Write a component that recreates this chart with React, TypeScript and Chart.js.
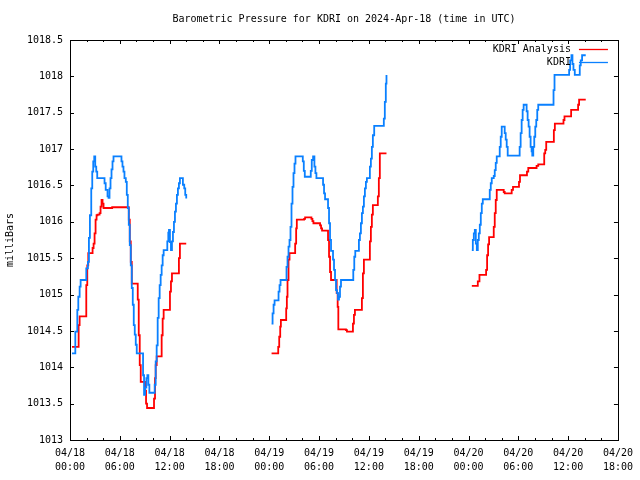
import React, { useEffect, useRef } from "react";
import { Chart, registerables } from "chart.js";

Chart.register(...registerables);

const chartTitle = "Barometric Pressure for KDRI on 2024-Apr-18 (time in UTC)";
const yAxisTitle = "milliBars";
const analysisLabel = "KDRI Analysis";
const stationLabel = "KDRI";

const xTickDates = ["04/18", "04/18", "04/18", "04/18", "04/19", "04/19", "04/19", "04/19", "04/20", "04/20", "04/20", "04/20"];
const xTickTimes = ["00:00", "06:00", "12:00", "18:00", "00:00", "06:00", "12:00", "18:00", "00:00", "06:00", "12:00", "18:00"];

// hours since 04/18 00:00 UTC
const kdriHours1 = [0.24, 0.64, 0.88, 1.0, 1.16, 1.28, 1.96, 2.16, 2.28, 2.4, 2.56, 2.68, 2.8, 2.92, 3.04, 3.16, 3.28, 4.16, 4.3, 4.52, 4.64, 4.76, 4.88, 5.0, 5.12, 5.24, 6.2, 6.32, 6.44, 6.56, 6.72, 6.84, 6.96, 7.08, 7.2, 7.32, 7.44, 7.56, 7.68, 7.8, 7.92, 8.04, 8.8, 8.92, 9.04, 9.2, 9.32, 9.44, 9.56, 10.2, 10.32, 10.44, 10.56, 10.68, 10.8, 10.92, 11.04, 11.16, 11.28, 11.72, 11.84, 11.92, 12.04, 12.16, 12.28, 12.4, 12.52, 12.64, 12.76, 12.88, 13.0, 13.12, 13.24, 13.6, 13.76, 13.88, 14.0];
const kdriValues1 = [1014.19, 1014.49, 1014.79, 1014.97, 1015.11, 1015.2, 1015.36, 1015.45, 1015.78, 1016.09, 1016.46, 1016.69, 1016.83, 1016.9, 1016.76, 1016.69, 1016.6, 1016.53, 1016.44, 1016.35, 1016.33, 1016.46, 1016.6, 1016.72, 1016.83, 1016.9, 1016.83, 1016.76, 1016.69, 1016.6, 1016.55, 1016.37, 1016.19, 1015.96, 1015.68, 1015.4, 1015.09, 1014.86, 1014.58, 1014.45, 1014.31, 1014.19, 1013.89, 1013.62, 1013.72, 1013.85, 1013.89, 1013.76, 1013.65, 1013.76, 1014.08, 1014.3, 1014.68, 1014.95, 1015.13, 1015.27, 1015.4, 1015.54, 1015.61, 1015.73, 1015.85, 1015.89, 1015.72, 1015.61, 1015.73, 1015.86, 1016.0, 1016.14, 1016.25, 1016.37, 1016.46, 1016.53, 1016.6, 1016.51, 1016.46, 1016.37, 1016.32];

const kdriHours2 = [24.28, 24.4, 24.52, 24.64, 25.12, 25.24, 25.36, 26.08, 26.2, 26.32, 26.44, 26.56, 26.68, 26.8, 26.92, 27.04, 27.16, 28.04, 28.16, 28.28, 29.0, 29.12, 29.28, 29.44, 29.56, 29.68, 30.48, 30.6, 30.72, 31.08, 31.2, 31.32, 31.44, 31.68, 31.8, 31.92, 32.04, 32.16, 32.28, 32.4, 32.52, 32.64, 34.12, 34.24, 34.36, 34.8, 34.92, 35.04, 35.16, 35.28, 35.4, 35.52, 35.64, 35.76, 36.12, 36.24, 36.36, 36.48, 36.64, 37.8, 37.92, 38.04, 38.12];
const kdriValues2 = [1014.6, 1014.74, 1014.86, 1014.92, 1015.04, 1015.13, 1015.2, 1015.38, 1015.52, 1015.66, 1015.75, 1015.93, 1016.25, 1016.48, 1016.67, 1016.8, 1016.9, 1016.83, 1016.7, 1016.62, 1016.7, 1016.85, 1016.9, 1016.76, 1016.67, 1016.6, 1016.51, 1016.39, 1016.31, 1016.19, 1015.98, 1015.75, 1015.6, 1015.48, 1015.34, 1015.2, 1015.06, 1015.02, 1014.93, 1014.97, 1015.11, 1015.2, 1015.34, 1015.52, 1015.6, 1015.75, 1015.84, 1015.98, 1016.12, 1016.21, 1016.35, 1016.46, 1016.55, 1016.6, 1016.76, 1016.87, 1017.03, 1017.19, 1017.32, 1017.42, 1017.65, 1017.9, 1018.02];

const kdriHours3 = [48.4, 48.52, 48.64, 48.76, 48.88, 49.0, 49.12, 49.24, 49.36, 49.48, 49.6, 49.72, 50.56, 50.68, 50.8, 51.04, 51.16, 51.28, 51.4, 51.76, 51.88, 52.0, 52.36, 52.48, 52.6, 52.72, 54.16, 54.28, 54.4, 54.52, 54.64, 55.0, 55.12, 55.24, 55.36, 55.48, 55.6, 55.68, 55.8, 55.92, 56.04, 56.16, 56.28, 56.4, 58.24, 58.36, 60.12, 60.24, 60.4, 60.52, 60.64, 60.8, 61.4, 61.52, 61.68, 62.12];
const kdriValues3 = [1015.61, 1015.75, 1015.84, 1015.89, 1015.7, 1015.61, 1015.75, 1015.84, 1015.96, 1016.12, 1016.25, 1016.31, 1016.44, 1016.53, 1016.6, 1016.63, 1016.71, 1016.81, 1016.9, 1017.03, 1017.17, 1017.31, 1017.22, 1017.13, 1017.03, 1016.91, 1017.03, 1017.22, 1017.4, 1017.54, 1017.61, 1017.52, 1017.4, 1017.31, 1017.17, 1017.03, 1016.97, 1016.91, 1017.03, 1017.17, 1017.31, 1017.4, 1017.54, 1017.61, 1017.81, 1018.02, 1018.09, 1018.22, 1018.29, 1018.17, 1018.09, 1018.02, 1018.15, 1018.22, 1018.29, 1018.29];

const analysisHours1 = [0.24, 1.04, 1.16, 1.96, 2.08, 2.2, 2.72, 2.84, 2.96, 3.08, 3.2, 3.32, 3.56, 3.68, 3.8, 3.92, 4.04, 5.08, 7.08, 7.2, 7.32, 7.44, 8.16, 8.28, 8.4, 8.52, 9.04, 9.16, 9.28, 10.12, 10.24, 10.32, 10.44, 11.04, 11.16, 11.28, 12.04, 12.16, 12.28, 13.12, 13.24, 14.0];
const analysisValues1 = [1014.28, 1014.58, 1014.7, 1015.13, 1015.4, 1015.57, 1015.64, 1015.7, 1015.84, 1016.03, 1016.09, 1016.1, 1016.12, 1016.21, 1016.3, 1016.25, 1016.19, 1016.2, 1016.03, 1015.73, 1015.45, 1015.15, 1014.93, 1014.44, 1014.03, 1013.8, 1013.68, 1013.5, 1013.44, 1013.57, 1013.85, 1014.03, 1014.15, 1014.44, 1014.67, 1014.79, 1015.04, 1015.18, 1015.29, 1015.5, 1015.7, 1015.7];

const analysisHours2 = [24.28, 25.08, 25.2, 25.32, 25.4, 26.04, 26.12, 26.2, 26.32, 26.44, 27.12, 27.24, 27.32, 28.2, 28.32, 29.08, 29.2, 29.32, 30.12, 30.24, 30.36, 31.08, 31.2, 31.32, 31.44, 32.12, 32.24, 32.32, 33.24, 33.36, 34.08, 34.2, 34.32, 35.16, 35.28, 35.4, 36.12, 36.24, 36.36, 36.48, 37.08, 37.2, 37.32, 38.12];
const analysisValues2 = [1014.19, 1014.28, 1014.42, 1014.56, 1014.65, 1014.81, 1014.97, 1015.2, 1015.48, 1015.57, 1015.7, 1015.91, 1016.03, 1016.04, 1016.06, 1016.04, 1016.01, 1015.98, 1015.95, 1015.91, 1015.88, 1015.75, 1015.52, 1015.31, 1015.2, 1015.02, 1014.83, 1014.52, 1014.51, 1014.49, 1014.6, 1014.72, 1014.79, 1014.95, 1015.29, 1015.48, 1015.73, 1015.93, 1016.1, 1016.23, 1016.35, 1016.6, 1016.94, 1016.94];

const analysisHours3 = [48.4, 49.12, 49.32, 50.12, 50.24, 50.36, 50.48, 51.04, 51.16, 51.28, 51.4, 52.24, 52.36, 53.2, 53.36, 54.08, 54.2, 55.04, 55.2, 56.2, 56.4, 57.12, 57.24, 57.36, 58.28, 58.4, 59.44, 59.56, 60.36, 61.2, 61.32, 62.12];
const analysisValues3 = [1015.12, 1015.18, 1015.27, 1015.34, 1015.54, 1015.69, 1015.79, 1015.93, 1016.12, 1016.3, 1016.44, 1016.41, 1016.39, 1016.44, 1016.48, 1016.55, 1016.64, 1016.69, 1016.74, 1016.77, 1016.79, 1016.94, 1016.99, 1017.1, 1017.26, 1017.35, 1017.4, 1017.45, 1017.54, 1017.61, 1017.68, 1017.68];

const FONT = '"DejaVu Sans Mono", monospace';
const RED = "#ff0000";
const BLUE = "#0a80ff";

type Pt = { x: number; y: number | null };

function joinSegments(segs: [number[], number[]][]): Pt[] {
  const out: Pt[] = [];
  segs.forEach(([hs, vs], i) => {
    if (i > 0) {
      const prev = segs[i - 1][0];
      out.push({ x: (prev[prev.length - 1] + hs[0]) / 2, y: null });
    }
    hs.forEach((h, j) => out.push({ x: h, y: vs[j] }));
  });
  return out;
}

const framePlugin = {
  id: "gnuplotFrame",
  afterDraw(chart: any) {
    const { ctx, chartArea } = chart;
    const { left, right, top, bottom } = chartArea;
    const xs = chart.scales.x;
    const ys = chart.scales.y;
    ctx.save();
    ctx.strokeStyle = "#000";
    ctx.lineWidth = 1;
    ctx.beginPath();
    for (let h = 0; h <= 66; h += 2) {
      const px = Math.round(xs.getPixelForValue(h)) + 0.5;
      const len = h % 6 === 0 ? 4 : 2;
      ctx.moveTo(px, bottom);
      ctx.lineTo(px, bottom - len);
      ctx.moveTo(px, top);
      ctx.lineTo(px, top + len);
    }
    ys.ticks.forEach((t: any) => {
      const py = Math.round(ys.getPixelForValue(t.value)) + 0.5;
      ctx.moveTo(left, py);
      ctx.lineTo(left + 4, py);
      ctx.moveTo(right, py);
      ctx.lineTo(right - 4, py);
    });
    ctx.stroke();
    ctx.strokeRect(Math.round(left) + 0.5, Math.round(top) + 0.5, Math.round(right - left), Math.round(bottom - top));

    ctx.font = `10px ${FONT}`;
    ctx.fillStyle = "#000";
    ctx.textAlign = "center";
    ctx.textBaseline = "middle";
    ctx.fillText(chartTitle, (left + right) / 2, 19);

    ctx.textAlign = "right";
    const rows: [string, string, number][] = [
      [analysisLabel, RED, 49],
      [stationLabel, BLUE, 62],
    ];
    rows.forEach(([label, color, y]) => {
      ctx.fillStyle = "#000";
      ctx.fillText(label, right - 47, y);
      ctx.strokeStyle = color;
      ctx.lineWidth = 1.3;
      ctx.beginPath();
      ctx.moveTo(right - 39, y + 0.5);
      ctx.lineTo(right - 10, y + 0.5);
      ctx.stroke();
    });
    ctx.restore();
  },
};

export default function App() {
  const ref = useRef<HTMLCanvasElement | null>(null);
  useEffect(() => {
    document.body.style.margin = "0";
    if (!ref.current) return;
    const chart = new Chart(ref.current, {
      type: "line",
      data: {
        datasets: [
          {
            label: stationLabel,
            data: joinSegments([
              [kdriHours1, kdriValues1],
              [kdriHours2, kdriValues2],
              [kdriHours3, kdriValues3],
            ]) as any,
            borderColor: BLUE,
            borderWidth: 1.8,
            pointRadius: 0,
            stepped: true,
            spanGaps: false,
            fill: false,
          },
          {
            label: analysisLabel,
            data: joinSegments([
              [analysisHours1, analysisValues1],
              [analysisHours2, analysisValues2],
              [analysisHours3, analysisValues3],
            ]) as any,
            borderColor: RED,
            borderWidth: 1.8,
            pointRadius: 0,
            stepped: true,
            spanGaps: false,
            fill: false,
          },
        ],
      },
      options: {
        responsive: false,
        animation: false,
        layout: { padding: { top: 40, right: 20, left: 0, bottom: 0 } },
        plugins: {
          legend: { display: false },
          title: { display: false },
          tooltip: { enabled: false },
        },
        scales: {
          x: {
            type: "linear",
            min: 0,
            max: 66,
            grid: { display: false, drawTicks: false },
            border: { display: false },
            afterFit: (s: any) => {
              s.height = 40;
            },
            ticks: {
              stepSize: 6,
              autoSkip: false,
              maxRotation: 0,
              padding: 7,
              color: "#000",
              font: { family: FONT, size: 10, lineHeight: 1.35 },
              callback: (_v: any, i: number) => [xTickDates[i], xTickTimes[i]],
            },
          },
          y: {
            type: "linear",
            min: 1013,
            max: 1018.5,
            grid: { display: false, drawTicks: false },
            border: { display: false },
            afterFit: (s: any) => {
              s.width = 70;
            },
            title: {
              display: true,
              text: yAxisTitle,
              color: "#000",
              font: { family: FONT, size: 10 },
              padding: { top: 4, bottom: 0 },
            },
            ticks: {
              stepSize: 0.5,
              padding: 7,
              color: "#000",
              font: { family: FONT, size: 10 },
              callback: (v: any) => String(v),
            },
          },
        },
      },
      plugins: [framePlugin],
    });
    return () => chart.destroy();
  }, []);
  return <canvas ref={ref} width={640} height={480} style={{ display: "block" }} />;
}
